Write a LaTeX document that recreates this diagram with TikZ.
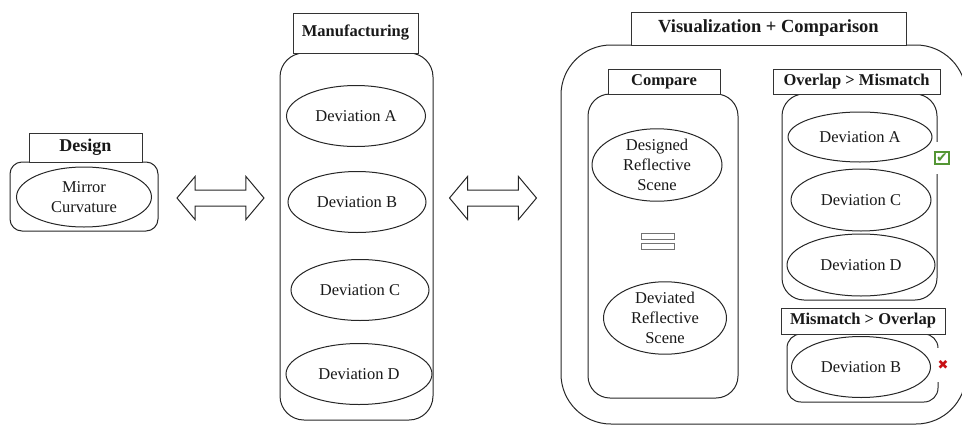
\documentclass[tikz,border=0pt]{standalone}
\usepackage{fontspec}
\setmainfont{Liberation Serif}
\newfontfamily\symfont{DejaVu Sans}
\usetikzlibrary{shapes.geometric,shapes.arrows}

\definecolor{okgreen}{RGB}{84,150,52}
\definecolor{badred}{RGB}{200,16,20}

\tikzset{
  every node/.style={font=\fontsize{16.5}{19.8}\selectfont, text=black!90},
  titlebox/.style={draw=black!80, line width=1pt, fill=white, inner sep=0pt,
    font=\bfseries\fontsize{16.5}{19.8}\selectfont},
  roundbox/.style={draw=black!85, line width=1pt, rounded corners=#1, inner sep=0pt},
  roundbox/.default=22pt,
  oval/.style={draw=black!85, line width=1pt, ellipse, inner sep=0pt, align=center},
  twoway/.style={draw=black!85, line width=1pt, double arrow, double arrow head extend=13.5pt,
    double arrow tip angle=100, minimum width=42pt, minimum height=87pt,
    inner xsep=0pt, inner ysep=7.5pt}
}

\begin{document}
\begin{tikzpicture}[x=1pt, y=-1pt]
  \useasboundingbox (0,0) rectangle (962,426);
  \clip (0,0) rectangle (962,426);

  % Design
  \node[roundbox=12pt, minimum width=148pt, minimum height=69pt] (design-b) at (84,196.5) {};
  \node[titlebox, minimum width=113pt, minimum height=29pt,
        font=\bfseries\fontsize{18}{21}\selectfont] (design-t) at (85.5,147.5) {Design};
  \node[oval, minimum width=135pt, minimum height=60pt] (mirror) at (84,197) {Mirror\\Curvature};

  % Manufacturing
  \node[roundbox=24pt, minimum width=153pt, minimum height=367pt] (manu-b) at (356.5,236.5) {};
  \node[titlebox, minimum width=125pt, minimum height=40pt] (manu-t) at (355.5,33) {Manufacturing};
  \foreach \n/\x/\y/\w in {A/356/116/139, B/357/202/138, C/360/290/138, D/359/374/146} {
    \node[oval, minimum width=\w pt, minimum height=61pt] (manu\n) at (\x,\y) {Deviation \n};
  }

  % Double arrows
  \node[twoway] (arrow1) at (220.5,198) {};
  \node[twoway] (arrow2) at (493,198) {};

  % Visualization + Comparison
  \node[roundbox=50pt, minimum width=405pt, minimum height=379pt] (vis-b) at (763.5,234.5) {};
  \node[titlebox, minimum width=275pt, minimum height=33pt,
        font=\bfseries\fontsize{18.5}{22}\selectfont] (vis-t) at (768.5,28.5) {Visualization + Comparison};

  % Compare
  \node[roundbox, minimum width=150pt, minimum height=304pt] (cmp-b) at (663,246) {};
  \node[titlebox, minimum width=112pt, minimum height=25pt] (cmp-t) at (664,81.5) {Compare};
  \node[oval, minimum width=130pt, minimum height=64pt] (designed) at (657,165) {Designed\\Reflective\\Scene};
  \node[oval, minimum width=123pt, minimum height=65pt] (deviated) at (665,318) {Deviated\\Reflective\\Scene};
  \draw[black!55, line width=0.8pt] (641,233) rectangle (674,239);
  \draw[black!55, line width=0.8pt] (641,243) rectangle (674,249);

  % Overlap > Mismatch
  \node[roundbox, minimum width=155pt, minimum height=206pt] (ovl-b) at (859.5,197) {};
  \node[titlebox, minimum width=167pt, minimum height=25pt] (ovl-t) at (856.5,81.5) {Overlap > Mismatch};
  \node[oval, minimum width=144pt, minimum height=50pt] (ovlA) at (860,137) {Deviation A};
  \node[oval, minimum width=140pt, minimum height=62pt] (ovlC) at (861,200) {Deviation C};
  \node[oval, minimum width=148pt, minimum height=62pt] (ovlD) at (861,265) {Deviation D};
  \node[fill=white, inner sep=0pt, minimum width=18pt, minimum height=32pt,
        font=\symfont\fontsize{14}{14}\selectfont, text=okgreen] (ok) at (942,158)
        {\setlength\fboxrule{1.8pt}\setlength\fboxsep{0.6pt}\fcolorbox{okgreen}{white}{✔}};

  % Mismatch > Overlap
  \node[roundbox=14pt, minimum width=151pt, minimum height=68pt] (mis-b) at (862.5,368) {};
  \node[titlebox, minimum width=164pt, minimum height=26pt] (mis-t) at (863,321) {Mismatch > Overlap};
  \node[oval, minimum width=139pt, minimum height=61pt] (misB) at (861,367) {Deviation B};
  \node[fill=white, inner sep=0pt, minimum width=14pt, minimum height=34pt,
        font=\symfont\fontsize{13}{13}\selectfont, text=badred] (bad) at (943,365) {✖};
\end{tikzpicture}
\end{document}
